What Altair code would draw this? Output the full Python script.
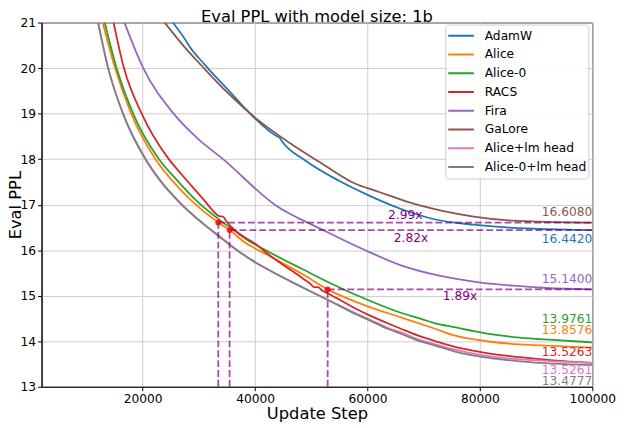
import altair as alt
import pandas as pd

FONT = "DejaVu Sans"

chart_title = "Eval PPL with model size: 1b"

series_names = ["AdamW", "Alice", "Alice-0", "RACS", "Fira", "GaLore",
                "Alice+lm head", "Alice-0+lm head"]
series_colors = ["#1f77b4", "#ff7f0e", "#2ca02c", "#d62728", "#9467bd",
                 "#8c564b", "#e377c2", "#7f7f7f"]

adamw_steps = [25350, 27800, 28100, 31150, 35350, 39750, 43800, 44300, 44800,
               49050, 54850, 60100, 66100, 71900, 78900, 84700, 90700, 100000]
adamw_ppl = [21.0, 20.58, 20.52, 20.06, 19.50, 18.92, 18.51, 18.48, 18.39,
             17.96, 17.53, 17.21, 16.90, 16.68, 16.56, 16.50, 16.47, 16.442]

alice_steps = [12890, 15080, 17950, 22280, 25100, 28570, 33445, 35461, 37950,
               42620, 48480, 52910, 60180, 66040, 71890, 75400, 81250, 87110,
               92960, 100000]
alice_ppl = [21.0, 20.0, 19.0, 18.0, 17.55, 17.10, 16.608, 16.442, 16.19,
             15.87, 15.47, 15.14, 14.76, 14.52, 14.28, 14.13, 14.00, 13.93,
             13.90, 13.8576]

alice0_steps = [13240, 15350, 18300, 22890, 25650, 29450, 33840, 36770, 37950,
                42620, 48480, 54330, 60180, 66040, 69550, 71890, 75400, 81250,
                87110, 92960, 100000]
alice0_ppl = [21.0, 20.0, 19.0, 18.0, 17.60, 17.10, 16.65, 16.39, 16.28,
              15.95, 15.58, 15.22, 14.90, 14.62, 14.49, 14.40, 14.31, 14.17,
              14.08, 14.03, 13.9761]

racs_steps = [14820, 16660, 19820, 24640, 26810, 30920, 32550, 33560, 34310,
              34840, 36770, 40280, 42040, 48480, 49940, 50460, 51170, 51870,
              52980, 57840, 60180, 63690, 66040, 69550, 71890, 75400, 81250,
              87110, 92960, 100000]
racs_ppl = [21.0, 20.0, 19.0, 18.0, 17.68, 17.10, 16.86, 16.75, 16.74,
            16.64, 16.40, 16.12, 15.94, 15.38, 15.25, 15.19, 15.19, 15.12,
            15.05, 14.72, 14.58, 14.39, 14.27, 14.10, 14.01, 13.88, 13.74,
            13.65, 13.58, 13.5263]

fira_steps = [16750, 20100, 25500, 29800, 34300, 43500, 52000, 59600, 66100,
              72750, 80150, 85950, 91750, 100000]
fira_ppl = [21.0, 20.0, 19.0, 18.45, 18.0, 17.0, 16.45, 16.0, 15.66,
            15.44, 15.29, 15.22, 15.17, 15.14]

galore_steps = [23900, 27450, 30950, 35000, 40100, 46100, 52050, 57850, 61350,
                63650, 67150, 73100, 78900, 84700, 90700, 100000]
galore_ppl = [21.0, 20.46, 19.99, 19.47, 18.90, 18.36, 17.89, 17.46, 17.31,
              17.21, 17.06, 16.87, 16.74, 16.66, 16.63, 16.608]

alice_lm_steps = [12060, 13850, 16490, 20530, 23160, 26760, 30620, 33700, 36940,
                  39700, 42210, 48480, 54330, 57840, 60180, 63690, 66040, 69550,
                  71890, 75400, 81250, 87110, 92960, 100000]
alice_lm_ppl = [21.0, 20.0, 19.0, 17.98, 17.51, 17.02, 16.59, 16.29, 15.98,
                15.76, 15.58, 15.18, 14.83, 14.62, 14.49, 14.29, 14.19, 14.02,
                13.94, 13.82, 13.68, 13.60, 13.56, 13.5261]

alice0_lm_steps = [12060, 13850, 16490, 20530, 23160, 26760, 30620, 33700, 36940,
                   39700, 42210, 48480, 54330, 57840, 60180, 63690, 66040, 69550,
                   71890, 75400, 81250, 87110, 92960, 100000]
alice0_lm_ppl = [21.0, 20.0, 19.0, 18.0, 17.53, 17.03, 16.60, 16.30, 15.99,
                 15.76, 15.58, 15.18, 14.82, 14.60, 14.47, 14.27, 14.16, 13.99,
                 13.91, 13.78, 13.64, 13.56, 13.51, 13.4777]

all_steps = [adamw_steps, alice_steps, alice0_steps, racs_steps, fira_steps,
             galore_steps, alice_lm_steps, alice0_lm_steps]
all_ppl = [adamw_ppl, alice_ppl, alice0_ppl, racs_ppl, fira_ppl, galore_ppl,
           alice_lm_ppl, alice0_lm_ppl]

# speed-up annotations (matched point on Alice curve vs. final value of baseline)
speedup_labels = ["2.99x", "2.82x", "1.89x"]
speedup_steps = [33445, 35461, 52910]
speedup_levels = [16.608, 16.442, 15.14]
speedup_dy = [-8, 8, 7]

# final value labels
final_labels = ["16.6080", "16.4420", "15.1400", "13.9761", "13.8576",
                "13.5263", "13.5261", "13.4777"]
final_values = [16.608, 16.442, 15.14, 13.9761, 13.8576, 13.5263, 13.5261, 13.4777]
final_colors = ["#8c564b", "#1f77b4", "#9467bd", "#2ca02c", "#ff7f0e",
                "#d62728", "#e377c2", "#7f7f7f"]
final_dy = [-11, 9, -10, -24, -18, -11, 7, 16]

END_STEP = 100000

rows = []
for name, st, pp in zip(series_names, all_steps, all_ppl):
    for s, p in zip(st, pp):
        rows.append({"step": s, "ppl": p, "method": name})
df = pd.DataFrame(rows)

xscale = alt.Scale(domain=[2000, 100000], nice=False, zero=False)
yscale = alt.Scale(domain=[13, 21], nice=False, zero=False)

x_axis = alt.Axis(values=[20000, 40000, 60000, 80000, 100000], format="d",
                  labelFlush=False, title="Update Step", titleY=32,
                  titleBaseline="alphabetic")
y_axis = alt.Axis(values=list(range(13, 22)), format="d", labelFlush=False,
                  title="Eval PPL", titleX=-21, titleBaseline="alphabetic",
                  titleAngle=270)

lines = alt.Chart(df).mark_line(strokeWidth=1.8, clip=True, interpolate="monotone").encode(
    x=alt.X("step:Q", scale=xscale, axis=x_axis),
    y=alt.Y("ppl:Q", scale=yscale, axis=y_axis),
    color=alt.Color("method:N",
                    scale=alt.Scale(domain=series_names, range=series_colors),
                    legend=alt.Legend(title=None, orient="none", legendX=409, legendY=2,
                                      symbolType="stroke", symbolSize=676,
                                      symbolStrokeWidth=2, labelFontSize=12.4,
                                      labelFont=FONT, labelColor="black",
                                      fillColor="rgba(255,255,255,0.85)",
                                      strokeColor="#cccccc", cornerRadius=3,
                                      padding=2, rowPadding=0, clipHeight=18.5,
                                      labelOffset=10)),
)

ann = pd.DataFrame({"label": speedup_labels, "step": speedup_steps,
                    "level": speedup_levels,
                    "end": [END_STEP] * 3, "floor": [13] * 3})
ann["mid"] = (ann["step"] + ann["end"]) / 2

hrules = alt.Chart(ann).mark_rule(color="purple", opacity=0.7, strokeWidth=1.8,
                                  strokeDash=[7, 3]).encode(
    x=alt.X("step:Q", scale=xscale), x2="end:Q", y=alt.Y("level:Q", scale=yscale))
vrules = alt.Chart(ann).mark_rule(color="purple", opacity=0.7, strokeWidth=1.8,
                                  strokeDash=[7, 3]).encode(
    x=alt.X("step:Q", scale=xscale), y=alt.Y("floor:Q", scale=yscale), y2="level:Q")
markers = alt.Chart(ann).mark_point(shape="circle", filled=True, color="red",
                                    size=35, opacity=0.85).encode(
    x=alt.X("step:Q", scale=xscale), y=alt.Y("level:Q", scale=yscale))

layers = [lines, hrules, vrules, markers]

for i in range(len(speedup_labels)):
    d = ann.iloc[[i]]
    layers.append(alt.Chart(d).mark_text(font=FONT, fontSize=12.4, color="purple",
                                         baseline="middle", align="center",
                                         dy=speedup_dy[i]).encode(
        x=alt.X("mid:Q", scale=xscale), y=alt.Y("level:Q", scale=yscale),
        text="label:N"))

fin = pd.DataFrame({"label": final_labels, "value": final_values,
                    "step": [END_STEP] * len(final_labels)})
for i in range(len(final_labels)):
    d = fin.iloc[[i]]
    layers.append(alt.Chart(d).mark_text(font=FONT, fontSize=12.4, color=final_colors[i],
                                         baseline="middle", align="right",
                                         dy=final_dy[i]).encode(
        x=alt.X("step:Q", scale=xscale), y=alt.Y("value:Q", scale=yscale),
        text="label:N"))

title_df = pd.DataFrame({"t": [chart_title]})
layers.append(alt.Chart(title_df).mark_text(font=FONT, fontSize=16.5, color="black",
                                             baseline="alphabetic", align="center").encode(
    x=alt.value(279), y=alt.value(-1), text="t:N"))

chart = alt.layer(*layers).properties(
    width=558, height=369,
    autosize=alt.AutoSizeParams(type="none"),
    padding={"left": 34, "top": 12, "right": 24, "bottom": 39},
).configure_axis(
    labelFont=FONT, labelFontSize=12.4, labelColor="black",
    titleFont=FONT, titleFontSize=16.5, titleFontWeight="normal", titleColor="black",
    tickColor="black", tickSize=4, labelPadding=2, domainColor="black",
    gridColor="#cccccc", gridWidth=1,
).configure_view(stroke="black", strokeWidth=1)

chart.save("out.html", embed_options={"renderer": "svg", "actions": False})
